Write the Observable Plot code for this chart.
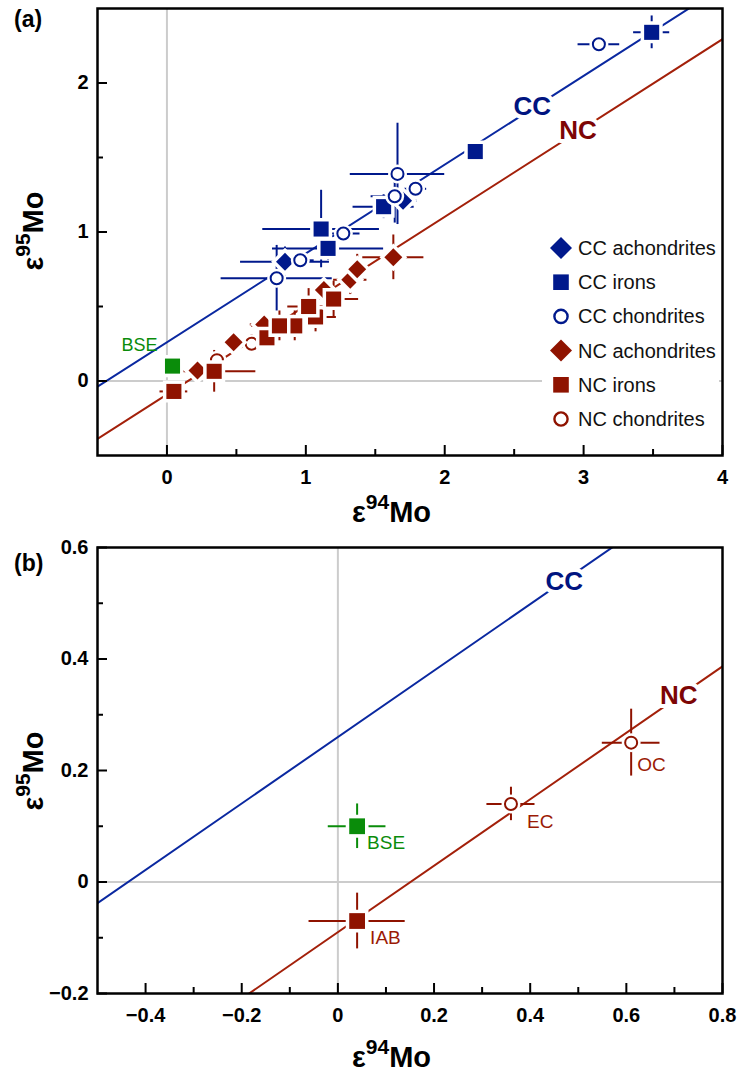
<!DOCTYPE html>
<html><head><meta charset="utf-8">
<script src="https://cdn.jsdelivr.net/npm/d3@7"></script>
<script src="https://cdn.jsdelivr.net/npm/@observablehq/plot@0.6"></script>
<style>
body{margin:0;background:#fff;}
#wrap{position:relative;width:739px;height:1075px;font-family:"Liberation Sans",Arial,Helvetica,sans-serif;}
#wrap > svg{position:absolute;left:0;}
</style></head><body><div id="wrap"></div>
<script>
// ---------- DATA (panel a) ----------
const ccAchondrites = [
  {x:0.85, y:0.80, ex:0.32, ey:0.10},
  {x:1.70, y:1.21, ex:0.10, ey:0.06}
];
const ccIrons = [
  {x:1.11, y:1.02, ex:0.42, ey:0.26},
  {x:1.16, y:0.89, ex:0.40, ey:0.08},
  {x:1.56, y:1.17, ex:0.22, ey:0.08},
  {x:2.22, y:1.54, ex:0.05, ey:0.03},
  {x:3.49, y:2.34, ex:0.13, ey:0.11}
];
const ccChondrites = [
  {x:0.79, y:0.69, ex:0.40, ey:0.22},
  {x:0.96, y:0.81, ex:0.10, ey:0.05},
  {x:1.27, y:0.99, ex:0.12, ey:0.05},
  {x:1.64, y:1.24, ex:0.17, ey:0.18},
  {x:1.66, y:1.39, ex:0.34, ey:0.34},
  {x:1.79, y:1.29, ex:0.08, ey:0.04},
  {x:3.11, y:2.26, ex:0.15, ey:0.02}
];
const ncAchondrites = [
  {x:0.22, y:0.07, ex:0.05, ey:0.03},
  {x:0.48, y:0.26, ex:0.06, ey:0.05},
  {x:0.70, y:0.38, ex:0.10, ey:0.05},
  {x:1.13, y:0.61, ex:0.08, ey:0.06},
  {x:1.32, y:0.68, ex:0.12, ey:0.10},
  {x:1.37, y:0.75, ex:0.05, ey:0.10},
  {x:1.63, y:0.83, ex:0.22, ey:0.15}
];
const ncIrons = [
  {x:0.05, y:-0.07, ex:0.10, ey:0.05},
  {x:0.34, y:0.065, ex:0.30, ey:0.14},
  {x:0.72, y:0.29, ex:0.08, ey:0.05},
  {x:0.92, y:0.37, ex:0.10, ey:0.10},
  {x:1.07, y:0.43, ex:0.15, ey:0.10},
  {x:0.81, y:0.37, ex:0.20, ey:0.10},
  {x:1.20, y:0.55, ex:0.18, ey:0.12},
  {x:1.02, y:0.50, ex:0.15, ey:0.12}
];
const ncChondrites = [
  {x:0.36, y:0.14, ex:0.05, ey:0.03},
  {x:0.61, y:0.25, ex:0.06, ey:0.06}
];
const bseA = [{x:0.04, y:0.10, ex:0.03, ey:0.02, label:"BSE"}];

// ---------- DATA (panel b) ----------
const bseB = [{x:0.04, y:0.10, ex:0.06, ey:0.04, label:"BSE"}];
const iabB = [{x:0.04, y:-0.07, ex:0.10, ey:0.05, label:"IAB"}];
const ecB  = [{x:0.36, y:0.14, ex:0.05, ey:0.03, label:"EC"}];
const ocB  = [{x:0.61, y:0.25, ex:0.06, ey:0.06, label:"OC"}];

// correlation lines (slope, intercept)
const fitGroups = ["CC", "NC"];
const fitSlopes = [0.596, 0.596];
const fitIntercepts = [0.26, -0.09];

// line labels
const lineLabelsA = [{text:"CC", x:2.63, y:1.84}, {text:"NC", x:2.96, y:1.68}];
const lineLabelsB = [{text:"CC", x:0.471, y:0.538}, {text:"NC", x:0.709, y:0.334}];

// ticks
const aXMajor = [0,1,2,3,4], aXMinor = [0.5,1.5,2.5,3.5];
const aYMajor = [0,1,2],     aYMinor = [0.5,1.5];
const bXMajor = [-0.4,-0.2,0,0.2,0.4,0.6,0.8], bXMinor = [-0.3,-0.1,0.1,0.3,0.5,0.7];
const bYMajor = [-0.2,0,0.2,0.4,0.6],          bYMinor = [-0.1,0.1,0.3,0.5];

const legendLabels = ["CC achondrites","CC irons","CC chondrites","NC achondrites","NC irons","NC chondrites"];

// ---------- STYLE ----------
const FONT = '"Liberation Sans", Arial, Helvetica, sans-serif';
const CC_COL = "#00198c", NC_COL = "#8f1300", GREEN = "#0a8c0a";
const CC_LINE = "#0a28a0", NC_LINE = "#a3200a";
const CC_TXT = "#001480", NC_TXT = "#7d0505";
const lineColors = {CC: CC_LINE, NC: NC_LINE};
const labelColors = {CC: CC_TXT, NC: NC_TXT};

function errorMarks(data, color) {
  return [
    Plot.ruleY(data, {y:"y", x1:d=>d.x-d.ex, x2:d=>d.x+d.ex, stroke:color, strokeWidth:2}),
    Plot.ruleX(data, {x:"x", y1:d=>d.y-d.ey, y2:d=>d.y+d.ey, stroke:color, strokeWidth:2})
  ];
}
function filled(data, color, symbol, r) {
  return Plot.dot(data, {x:"x", y:"y", symbol, r, fill:color, stroke:"white", strokeWidth:7, paintOrder:"stroke", strokeLinejoin:"miter"});
}
function openCircle(data, color, r) {
  return [
    Plot.dot(data, {x:"x", y:"y", r, fill:"white", stroke:"white", strokeWidth:7}),
    Plot.dot(data, {x:"x", y:"y", r, fill:"white", stroke:color, strokeWidth:2})
  ];
}
function fitLines(xdom) {
  const pts = [];
  fitGroups.forEach((g, i) => xdom.forEach(x => pts.push({group:g, x, y: fitIntercepts[i] + fitSlopes[i]*x})));
  return fitGroups.map(g => Plot.line(pts.filter(p => p.group === g), {x:"x", y:"y", stroke:lineColors[g], strokeWidth:2, clip:true}));
}
function lineLabels(data) {
  return Plot.text(data, {x:"x", y:"y", text:"text", fill:d=>labelColors[d.text], fontSize:26, fontWeight:"bold",
    stroke:"white", strokeWidth:8, paintOrder:"stroke", textAnchor:"middle"});
}
const fmt = d => d === 0 ? "0" : (Number.isInteger(d) ? String(d) : d3.format(".1f")(d));
function axesMarks(xMaj, xMin, yMaj, yMin, innerW, innerH) {
  const t = {stroke:"black", strokeWidth:2};
  return [
    Plot.ruleX(xMaj, {...t, insetTop: innerH-10}),
    Plot.ruleX(xMin, {...t, insetTop: innerH-6}),
    Plot.ruleY(yMaj, {...t, insetRight: innerW-10}),
    Plot.ruleY(yMin, {...t, insetRight: innerW-6}),
    Plot.axisX(xMaj, {tickSize:0, tickPadding:14, tickFormat:fmt, fontSize:20, fontWeight:"bold", label:null}),
    Plot.axisY(yMaj, {tickSize:0, tickPadding:9, tickFormat:fmt, fontSize:20, fontWeight:"bold", label:null}),
    Plot.frame({stroke:"black", strokeWidth:2.5})
  ];
}

const wrap = document.getElementById("wrap");

// ---------- PANEL A ----------
const A = {w:739, h:500, mt:8, mb:45, ml:97, mr:17};
const xDomA = [-0.5, 4], yDomA = [-0.5, 2.5];
const plotA = Plot.plot({
  width:A.w, height:A.h, marginTop:A.mt, marginBottom:A.mb, marginLeft:A.ml, marginRight:A.mr,
  x:{domain:xDomA}, y:{domain:yDomA},
  style:{fontFamily:FONT, background:"white", overflow:"visible"},
  marks:[
    Plot.ruleX([0], {stroke:"#cccccc", strokeWidth:2}),
    Plot.ruleY([0], {stroke:"#cccccc", strokeWidth:2}),
    ...fitLines(xDomA),
    ...errorMarks(ccIrons, CC_COL), ...errorMarks(ccAchondrites, CC_COL), ...errorMarks(ccChondrites, CC_COL),
    filled(ccIrons, CC_COL, "square", 8.5),
    filled(ccAchondrites, CC_COL, "diamond2", 8.1),
    ...openCircle(ccChondrites, CC_COL, 6),
    ...errorMarks(ncIrons, NC_COL), ...errorMarks(ncAchondrites, NC_COL), ...errorMarks(ncChondrites, NC_COL),
    ...openCircle(ncChondrites, NC_COL, 6),
    filled(ncAchondrites, NC_COL, "diamond2", 8.1),
    filled(ncIrons, NC_COL, "square", 8.5),
    filled(bseA, GREEN, "square", 8.5),
    Plot.text(bseA, {x:"x", y:"y", text:"label", fill:GREEN, fontSize:18, fontWeight:"normal", textAnchor:"end", dx:-15, dy:-21}),
    lineLabels(lineLabelsA),
    ...axesMarks(aXMajor, aXMinor, aYMajor, aYMinor, A.w-A.ml-A.mr, A.h-A.mt-A.mb)
  ]
});
plotA.style.top = "0px";
wrap.appendChild(plotA);

// ---------- PANEL B ----------
const B = {w:739, h:575, mt:47, mb:82, ml:97, mr:17, top:500};
const xDomB = [-0.5, 0.8], yDomB = [-0.2, 0.6];
const ptLabel = (data, color, dx, dy) => Plot.text(data, {x:"x", y:"y", text:"label", fill:color, fontSize:19, fontWeight:"normal", textAnchor:"start", dx, dy});
const plotB = Plot.plot({
  width:B.w, height:B.h, marginTop:B.mt, marginBottom:B.mb, marginLeft:B.ml, marginRight:B.mr,
  x:{domain:xDomB}, y:{domain:yDomB},
  style:{fontFamily:FONT, background:"white", overflow:"visible"},
  marks:[
    Plot.ruleX([0], {stroke:"#cccccc", strokeWidth:2}),
    Plot.ruleY([0], {stroke:"#cccccc", strokeWidth:2}),
    ...fitLines(xDomB),
    ...errorMarks(bseB, GREEN), ...errorMarks(iabB, NC_COL), ...errorMarks(ecB, NC_COL), ...errorMarks(ocB, NC_COL),
    filled(bseB, GREEN, "square", 8.9),
    filled(iabB, NC_COL, "square", 8.9),
    ...openCircle(ecB, NC_COL, 6),
    ...openCircle(ocB, NC_COL, 6),
    ptLabel(bseB, GREEN, 10, 17),
    ptLabel(iabB, "#9b1a05", 13, 17),
    ptLabel(ecB, "#9b1a05", 16, 18),
    ptLabel(ocB, "#9b1a05", 6, 22),
    lineLabels(lineLabelsB),
    ...axesMarks(bXMajor, bXMinor, bYMajor, bYMinor, B.w-B.ml-B.mr, B.h-B.mt-B.mb)
  ]
});
plotB.style.top = B.top + "px";
wrap.appendChild(plotB);

// ---------- OVERLAY: titles, panel letters, legend ----------
const ov = d3.select(wrap).append("svg").attr("width", 739).attr("height", 1075)
  .style("top", "0px").style("pointer-events", "none").style("font-family", FONT);

function xTitle(x, y) {
  const t = ov.append("text").attr("x", x).attr("y", y).attr("font-size", 29).attr("font-weight", "bold");
  t.append("tspan").text("ε");
  t.append("tspan").attr("font-size", 21).attr("dy", -13).text("94");
  t.append("tspan").attr("dy", 13).text("Mo");
}
function yTitle(x, y) {
  const t = ov.append("text").attr("transform", `translate(${x},${y}) rotate(-90)`).attr("text-anchor", "middle")
    .attr("font-size", 29).attr("font-weight", "bold");
  t.append("tspan").text("ε");
  t.append("tspan").attr("font-size", 21).attr("dy", -13).text("95");
  t.append("tspan").attr("dy", 13).text("Mo");
}
xTitle(352, 522);
xTitle(352, 1067);
yTitle(43, 231);
yTitle(43, 771);
ov.append("text").attr("x", 14).attr("y", 27).attr("font-size", 23).attr("font-weight", "bold").text("(a)");
ov.append("text").attr("x", 14).attr("y", 571).attr("font-size", 23).attr("font-weight", "bold").text("(b)");

// legend
ov.append("rect").attr("x", 542).attr("y", 230).attr("width", 177).attr("height", 206).attr("fill", "white");
const legendSym = ["diamond","square","circle","diamond","square","circle"];
const legendCol = [CC_COL, CC_COL, CC_COL, NC_COL, NC_COL, NC_COL];
legendLabels.forEach((lab, i) => {
  const cy = 248 + i * 34.2, cx = 561;
  const s = legendSym[i], c = legendCol[i];
  if (s === "diamond") ov.append("path").attr("d", `M${cx},${cy-11}L${cx+11},${cy}L${cx},${cy+11}L${cx-11},${cy}Z`).attr("fill", c);
  else if (s === "square") ov.append("rect").attr("x", cx-7.8).attr("y", cy-7.8).attr("width", 15.6).attr("height", 15.6).attr("fill", c);
  else ov.append("circle").attr("cx", cx).attr("cy", cy).attr("r", 6.6).attr("fill", "white").attr("stroke", c).attr("stroke-width", 2.4);
  ov.append("text").attr("x", 578).attr("y", cy).attr("dy", "0.35em").attr("font-size", 20).attr("fill", "#111").text(lab);
});
</script></body></html>
